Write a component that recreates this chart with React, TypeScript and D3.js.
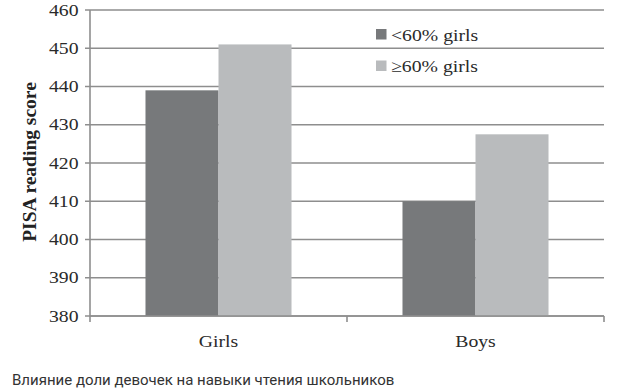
import React from "react";
import * as d3 from "d3";

const categories = ["Girls", "Boys"];
const seriesNames = ["<60% girls", "≥60% girls"];
const lowShare = [439, 410];
const highShare = [451, 427.5];
const yTicks = [380, 390, 400, 410, 420, 430, 440, 450, 460];

const W = 628;
const H = 391;
const colors = ["#77797b", "#b9bbbd"];
const gridColor = "#8e8e8e";
const serif = "'Liberation Serif', 'Times New Roman', serif";
const SX = 1.16;

export default function App() {
  const left = 90, right = 604, top = 10, bottom = 316;
  const y = d3.scaleLinear().domain([380, 460]).range([bottom, top]);
  const x0 = d3.scaleBand<string>().domain(categories).range([left, right]).padding(0);
  const x1 = d3
    .scaleBand<string>()
    .domain(seriesNames)
    .range([0, x0.bandwidth()])
    .paddingInner(0)
    .paddingOuter(0.76);
  const values = [lowShare, highShare];

  const textS = (x: number, yy: number, s: string, anchor: string) => (
    <text
      transform={`translate(${x},${yy}) scale(${SX},1)`}
      textAnchor={anchor}
      fontFamily={serif}
      fontSize={17}
      fill="#2a2a2a"
    >
      {s}
    </text>
  );

  return (
    <svg width={W} height={H} style={{ position: "absolute", left: 0, top: 0, background: "#fff" }}>
      {yTicks.map((t) => (
        <g key={t}>
          <line x1={left - 5} x2={right} y1={y(t)} y2={y(t)} stroke={gridColor} strokeWidth={1.6} />
          {textS(78.5, y(t) + 5.5, String(t), "end")}
        </g>
      ))}
      {categories.map((c, i) => (
        <g key={c}>
          {seriesNames.map((s, j) => (
            <rect
              key={s}
              x={x0(c)! + x1(s)!}
              y={y(values[j][i])}
              width={x1.bandwidth()}
              height={y(380) - y(values[j][i])}
              fill={colors[j]}
            />
          ))}
          {textS(x0(c)! + x0.bandwidth() / 2, 347, c, "middle")}
        </g>
      ))}
      <line x1={left} x2={left} y1={top} y2={bottom} stroke={gridColor} strokeWidth={1.6} />
      <line x1={left} x2={right} y1={bottom} y2={bottom} stroke={gridColor} strokeWidth={1.6} />
      {[left, left + x0.step(), right].map((tx, k) => (
        <line key={k} x1={tx} x2={tx} y1={bottom} y2={bottom + 6} stroke={gridColor} strokeWidth={1.6} />
      ))}
      {seriesNames.map((s, j) => (
        <g key={s}>
          <rect x={376} y={29 + j * 31.5} width={10.5} height={10.5} fill={colors[j]} />
          {textS(391, 40.5 + j * 31.5, s, "start")}
        </g>
      ))}
      <text
        transform={`translate(36,162) rotate(-90)`}
        textAnchor="middle"
        fontFamily={serif}
        fontWeight="bold"
        fontSize={19.5}
        fill="#222"
      >
        PISA reading score
      </text>
      <text x={12} y={385} fontFamily="Roboto, 'Liberation Sans', Arial, sans-serif" fontSize={15} fill="#333">
        Влияние доли девочек на навыки чтения школьников
      </text>
    </svg>
  );
}
